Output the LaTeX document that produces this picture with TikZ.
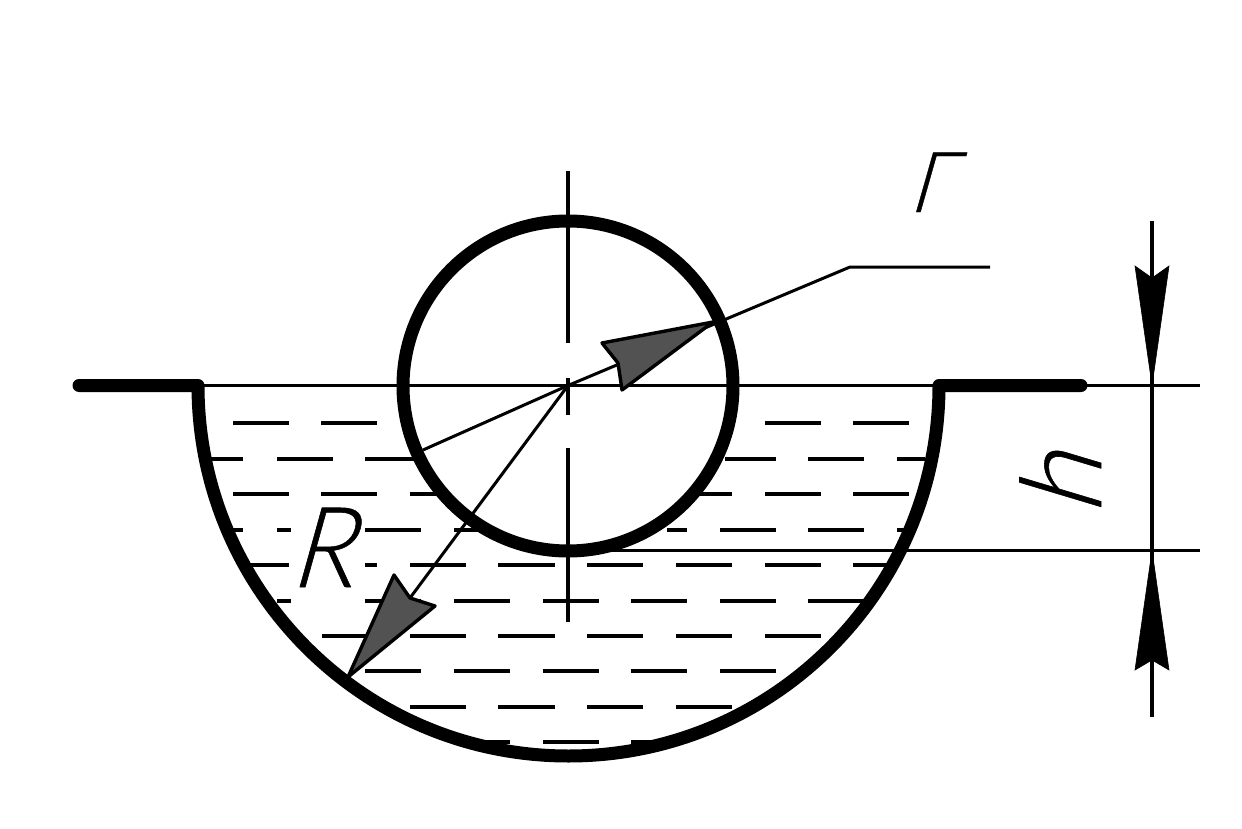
\documentclass[tikz,border=0pt]{standalone}
\usepackage{fontspec}
\newfontfamily\lblfont[FakeSlant=0.3,FakeBold=0.5]{Lato Light}
\tikzset{
  thinline/.style={line width=3.4pt,black},
  waterline/.style={line width=3.2pt,black},
  thick wall/.style={line width=13pt,black,line cap=round,line join=round},
  grayarrow/.style={draw=black,fill=black!68,line width=3.4pt,line join=round},
  blackarrow/.style={fill=black,draw=black,line width=.6pt,line join=miter},
  lbl/.style={inner sep=0pt,outer sep=0pt,black,font=\lblfont}
}
\begin{document}
\begin{tikzpicture}[x=1pt,y=-1pt]
\useasboundingbox (0,0) rectangle (1242,829);
\fill[white] (0,0) rectangle (1242,829);
% water dashes
\foreach \yy/\segs in {
 423/{233/289,321/377,765/821,853/909},
 459/{205/243,277/333,365/425,725/776,808/864,897/925},
 494/{233/289,321/377,410/466,670/732,765/821,853/909},
 530/{225/243,277/291,365/421,454/510,667/687,720/776,808/864,897/915},
 565/{250/289,365/377,410/466,498/555,587/643,676/732,765/821,853/895},
 601/{277/291,365/421,454/510,543/599,631/687,720/776,808/864},
 636/{322/377,410/466,498/555,587/643,676/732,765/821},
 671/{365/421,454/510,543/599,631/687,720/776},
 707/{410/466,498/555,587/643,676/732},
 742/{480/510,543/599,631/660}}{
  \foreach \aa/\bb in \segs { \draw[waterline] (\aa,\yy) -- (\bb,\yy); }
}
% key points
\coordinate (C) at (568,385.5);
\coordinate (FL) at (79,385.5);
\coordinate (BL) at (198,385.5);
\coordinate (BR) at (939,385.5);
\coordinate (FR) at (1081,385.5);
\coordinate (ExtTop) at (1200,385.5);
\coordinate (ExtBotS) at (600,550.5);
\coordinate (ExtBot) at (1200,550.5);
\coordinate (DimT) at (1152,221);
\coordinate (DimB) at (1152,717);
\coordinate (TipT) at (1152,385.5);
\coordinate (TipB) at (1152,550.5);
\coordinate (LeadA) at (423,450);
\coordinate (LeadB) at (850,267);
\coordinate (LeadC) at (990,267);
\coordinate (RTip) at (348,677);
\coordinate (RNotch) at (410,598);
\coordinate (rTip) at (713,322);
% extension line
\draw[thinline] (ExtBotS) -- (ExtBot);
% circle
\draw[line width=13pt,black,fill=white] (568,386) circle[radius=165];
\draw[thinline] (BL) -- (ExtTop);
% bowl
\draw[thick wall] (FL) -- (BL) arc[start angle=180,end angle=0,radius=370.5] -- (FR);
% centre lines
\draw[thinline] (568,171) -- (568,343);
\draw[thinline] (568,378) -- (568,415);
\draw[thinline] (568,448) -- (568,622);
% leaders
\draw[thinline,line width=3pt,line join=miter] (LeadA) -- (C) -- (LeadB) -- (LeadC);
\draw[thinline,line width=3pt] (C) -- (RNotch);
\draw[grayarrow] (rTip) -- (602,343) -- (618,363) -- (622,390) -- cycle;
\draw[grayarrow] (RTip) -- (394,575) -- (410,598) -- (435,606) -- cycle;
% dimension
\draw[thinline] (DimT) -- (DimB);
\fill[blackarrow] (TipT) -- (1135,266) -- (1152,278) -- (1169,266) -- cycle;
\fill[blackarrow] (TipB) -- (1135,670) -- (1152,660) -- (1169,670) -- cycle;
% labels
\node[lbl,font=\lblfont\fontsize{112}{112}\selectfont,anchor=base west,xscale=.93] (labelR) at (289,587) {R};
\node[lbl,font=\lblfont\fontsize{84}{84}\selectfont,anchor=base west,xscale=.95] (labelG) at (908,212) {Γ};
\node[lbl,font=\lblfont\fontsize{112}{112}\selectfont,anchor=base west,rotate=90] (labelH) at (1101,516) {h};
\end{tikzpicture}
\end{document}
